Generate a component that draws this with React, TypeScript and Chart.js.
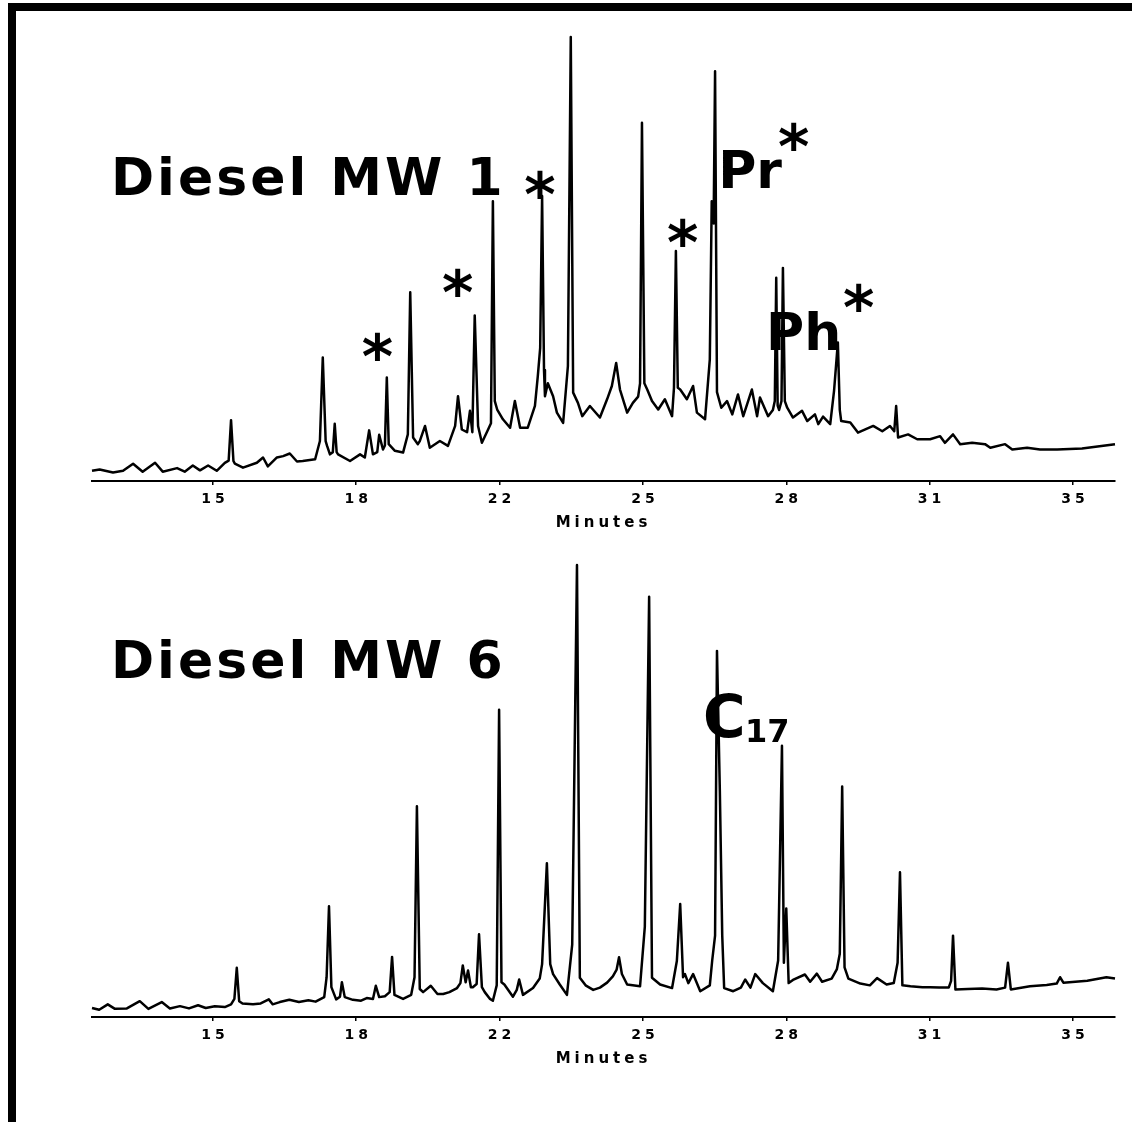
import { useEffect, useRef } from "react"
import { Chart, registerables } from "chart.js"
import type { Plugin } from "chart.js"

Chart.register(...registerables)

// eje x: posiciones de las marcas y sus etiquetas (tal como aparecen impresas)
const TICK_POS = [15, 18, 21, 24, 27, 30, 33]
const TICK_LABELS = ["15", "18", "22", "25", "28", "31", "35"]
const X_MIN = 12.47
const X_MAX = 33.88

// cromatograma Diesel MW 1: [minutos, respuesta %]
const MW1_TRACE: [number, number][] = [
  [12.47, 2.3], [12.63, 2.6], [12.91, 1.9], [13.12, 2.3], [13.33, 3.9], [13.53, 2.1], [13.79, 4.1],
  [13.95, 2.1], [14.25, 2.9], [14.41, 2.1], [14.58, 3.5], [14.73, 2.4], [14.9, 3.5], [15.08, 2.3],
  [15.25, 4.1], [15.33, 4.6], [15.38, 13.7], [15.43, 4.5], [15.46, 3.9], [15.63, 3.0], [15.92, 4.1],
  [16.05, 5.3], [16.15, 3.3], [16.34, 5.3], [16.47, 5.6], [16.61, 6.2], [16.76, 4.4], [16.88, 4.5],
  [17.14, 4.9], [17.24, 9.0], [17.3, 27.8], [17.36, 9.0], [17.39, 7.9], [17.45, 6.0], [17.51, 6.5],
  [17.55, 12.9], [17.59, 6.5], [17.62, 6.0], [17.87, 4.5], [18.08, 6.0], [18.18, 5.3], [18.27, 11.4],
  [18.35, 6.0], [18.44, 6.5], [18.48, 10.4], [18.56, 7.1], [18.6, 8.0], [18.64, 23.3], [18.68, 8.3],
  [18.81, 6.8], [18.98, 6.4], [19.08, 10.5], [19.13, 42.5], [19.19, 9.8], [19.29, 8.3], [19.33, 9.0],
  [19.44, 12.4], [19.54, 7.5], [19.75, 9.0], [19.92, 7.9], [20.07, 12.4], [20.13, 19.1], [20.21, 11.6],
  [20.32, 11.0], [20.38, 15.8], [20.43, 11.0], [20.48, 37.3], [20.55, 12.4], [20.63, 8.6], [20.76, 11.6],
  [20.82, 13.0], [20.86, 63.0], [20.9, 18.0], [20.95, 16.1], [21.07, 13.9], [21.22, 12.0], [21.32, 18.0],
  [21.43, 12.0], [21.59, 12.0], [21.74, 16.9], [21.8, 23.6], [21.85, 30.0], [21.89, 64.2], [21.93, 25.0],
  [21.95, 19.1], [22.01, 22.0], [22.12, 19.1], [22.2, 15.4], [22.33, 13.1], [22.43, 25.9], [22.49, 100],
  [22.54, 19.9], [22.64, 17.6], [22.73, 14.6], [22.89, 16.9], [23.1, 14.3], [23.25, 18.4], [23.35, 21.4],
  [23.44, 26.6], [23.52, 20.6], [23.67, 15.4], [23.79, 17.6], [23.9, 19.0], [23.94, 22.0], [23.98, 80.7],
  [24.03, 22.0], [24.09, 20.6], [24.19, 18.0], [24.32, 16.1], [24.46, 18.4], [24.61, 14.6], [24.65, 21.0],
  [24.69, 51.8], [24.73, 21.0], [24.78, 20.6], [24.92, 18.4], [25.05, 21.4], [25.13, 15.4], [25.3, 13.9],
  [25.4, 27.4], [25.44, 63.0], [25.48, 58.0], [25.51, 92.3], [25.55, 20.0], [25.64, 16.5], [25.76, 18.0],
  [25.87, 15.0], [25.99, 19.5], [26.1, 14.6], [26.28, 20.6], [26.39, 14.6], [26.45, 18.8], [26.62, 14.6],
  [26.72, 16.0], [26.76, 18.0], [26.79, 45.8], [26.82, 17.0], [26.85, 16.0], [26.9, 18.0], [26.93, 48.0],
  [26.97, 18.0], [27.02, 16.5], [27.14, 14.3], [27.33, 15.8], [27.44, 13.5], [27.6, 15.0], [27.67, 12.8],
  [27.77, 14.5], [27.92, 12.8], [28.0, 20.3], [28.08, 31.2], [28.12, 16.0], [28.15, 13.5], [28.34, 13.2],
  [28.5, 10.9], [28.82, 12.4], [29.01, 11.2], [29.17, 12.4], [29.26, 11.2], [29.3, 16.9], [29.34, 9.8],
  [29.55, 10.5], [29.74, 9.4], [30.01, 9.4], [30.22, 10.1], [30.32, 8.6], [30.49, 10.5], [30.64, 8.3],
  [30.89, 8.6], [31.16, 8.3], [31.27, 7.5], [31.58, 8.3], [31.73, 7.1], [32.04, 7.5], [32.31, 7.1],
  [32.67, 7.1], [33.19, 7.3], [33.88, 8.3],
]

// cromatograma Diesel MW 6
const MW6_TRACE: [number, number][] = [
  [12.47, 2.0], [12.62, 1.6], [12.8, 2.8], [12.95, 1.8], [13.2, 1.9], [13.47, 3.5], [13.65, 1.8],
  [13.93, 3.3], [14.1, 1.9], [14.31, 2.4], [14.5, 1.9], [14.69, 2.6], [14.85, 2.0], [15.04, 2.4],
  [15.25, 2.2], [15.38, 2.8], [15.45, 4.0], [15.5, 10.9], [15.55, 3.5], [15.62, 3.0], [15.84, 2.8],
  [16.0, 3.0], [16.17, 3.9], [16.25, 2.8], [16.4, 3.3], [16.6, 3.8], [16.8, 3.3], [17.0, 3.7],
  [17.15, 3.4], [17.33, 4.4], [17.38, 8.8], [17.43, 24.5], [17.48, 6.6], [17.58, 3.9], [17.66, 4.5],
  [17.7, 7.7], [17.76, 4.4], [17.93, 3.8], [18.1, 3.6], [18.22, 4.2], [18.35, 4.0], [18.41, 6.9],
  [18.48, 4.4], [18.6, 4.6], [18.7, 5.5], [18.75, 13.3], [18.8, 4.9], [18.98, 4.0], [19.15, 4.9],
  [19.22, 8.8], [19.27, 46.6], [19.33, 6.2], [19.4, 5.5], [19.56, 6.9], [19.7, 5.1], [19.82, 5.1],
  [19.95, 5.5], [20.11, 6.4], [20.18, 7.5], [20.23, 11.4], [20.29, 7.7], [20.34, 10.3], [20.4, 6.6],
  [20.44, 6.6], [20.52, 7.3], [20.57, 18.3], [20.63, 6.6], [20.69, 5.5], [20.8, 4.0], [20.86, 3.6],
  [20.94, 7.0], [20.99, 68.0], [21.04, 7.7], [21.1, 7.2], [21.28, 4.5], [21.36, 6.0], [21.41, 8.3],
  [21.49, 4.9], [21.7, 6.4], [21.84, 8.5], [21.89, 11.7], [21.99, 34.0], [22.06, 11.7], [22.12, 9.5],
  [22.26, 7.2], [22.41, 4.9], [22.52, 16.0], [22.62, 100], [22.68, 8.7], [22.8, 7.0], [22.96, 6.0],
  [23.1, 6.5], [23.25, 7.6], [23.37, 9.0], [23.45, 10.5], [23.5, 13.2], [23.56, 9.5], [23.67, 7.2],
  [23.94, 6.8], [24.04, 20.0], [24.13, 93.0], [24.19, 8.7], [24.36, 7.2], [24.61, 6.4], [24.71, 12.4],
  [24.78, 25.0], [24.84, 8.8], [24.88, 9.5], [24.95, 7.5], [25.05, 9.5], [25.2, 5.7], [25.4, 7.0],
  [25.45, 12.5], [25.51, 18.0], [25.55, 81.0], [25.61, 50.0], [25.66, 18.0], [25.7, 6.4], [25.89, 5.7],
  [26.05, 6.5], [26.14, 8.3], [26.25, 6.5], [26.35, 9.5], [26.51, 7.5], [26.72, 5.7], [26.83, 12.5],
  [26.91, 60.0], [26.95, 12.0], [27.0, 24.0], [27.05, 7.5], [27.14, 8.2], [27.39, 9.4], [27.5, 7.8],
  [27.64, 9.6], [27.75, 7.8], [27.95, 8.5], [28.06, 10.6], [28.12, 14.0], [28.17, 51.0], [28.22, 11.0],
  [28.3, 8.5], [28.55, 7.4], [28.75, 7.0], [28.9, 8.6], [29.1, 7.2], [29.25, 7.5], [29.33, 12.0],
  [29.38, 32.0], [29.43, 7.0], [29.6, 6.8], [29.85, 6.6], [30.01, 6.6], [30.2, 6.5], [30.4, 6.5],
  [30.45, 8.0], [30.49, 18.0], [30.54, 6.1], [30.8, 6.2], [31.1, 6.3], [31.4, 6.1], [31.58, 6.5],
  [31.64, 12.0], [31.7, 6.1], [32.1, 6.8], [32.45, 7.1], [32.66, 7.4], [32.73, 8.8], [32.8, 7.6],
  [33.3, 8.0], [33.7, 8.8], [33.88, 8.5],
]

// rótulos sobre el gráfico (x en minutos, y en %); center = centrado en el glifo
type Note = { text: string; x: number; y: number; size: number; center?: boolean; spacing?: number }

const MW1_NOTES: Note[] = [
  { text: "Diesel MW 1", x: 12.95, y: 64.4, size: 52, spacing: 3 },
  { text: "*", x: 18.45, y: 30.2, size: 60, center: true },
  { text: "*", x: 20.13, y: 44.6, size: 60, center: true },
  { text: "*", x: 21.85, y: 66.7, size: 60, center: true },
  { text: "*", x: 24.84, y: 55.9, size: 60, center: true },
  { text: "Pr", x: 25.66, y: 66.0, size: 52 },
  { text: "*", x: 27.16, y: 77.5, size: 60, center: true },
  { text: "Ph", x: 26.66, y: 29.5, size: 52 },
  { text: "*", x: 28.52, y: 41.4, size: 60, center: true },
]

const MW6_NOTES: Note[] = [
  { text: "Diesel MW 6", x: 12.95, y: 75.0, size: 52, spacing: 3 },
  { text: "C", x: 25.3, y: 61.9, size: 58 },
  { text: "17", x: 26.2, y: 60.8, size: 32 },
]

const LABEL_FONT = '"Comic Sans MS", "DejaVu Sans", sans-serif'
const AXIS_FONT = '"DejaVu Sans", sans-serif'

function notesPlugin(notes: Note[]): Plugin<"line"> {
  return {
    id: "notes",
    beforeDraw(chart) {
      // las etiquetas del eje original están muy estiradas
      ;(chart.ctx as any).letterSpacing = "4px"
    },
    afterDatasetsDraw(chart) {
      const { ctx, scales } = chart
      ctx.save()
      ctx.fillStyle = "#000"
      ctx.textAlign = "left"
      ctx.textBaseline = "alphabetic"
      for (const n of notes) {
        ctx.font = `bold ${n.size}px ${LABEL_FONT}`
        ;(ctx as any).letterSpacing = `${n.spacing ?? 0}px`
        const m = ctx.measureText(n.text)
        const px = scales.x.getPixelForValue(n.x)
        const py = scales.y.getPixelForValue(n.y)
        if (n.center) {
          const dx = px - (m.actualBoundingBoxRight - m.actualBoundingBoxLeft) / 2
          const dy = py + (m.actualBoundingBoxAscent - m.actualBoundingBoxDescent) / 2
          ctx.fillText(n.text, dx, dy)
        } else {
          ctx.fillText(n.text, px + m.actualBoundingBoxLeft, py)
        }
      }
      ctx.restore()
    },
    afterDraw(chart) {
      ;(chart.ctx as any).letterSpacing = "0px"
    },
  }
}

interface ChromatogramProps {
  trace: [number, number][]
  notes: Note[]
  top: number
  height: number
  padTop: number
}

function Chromatogram({ trace, notes, top, height, padTop }: ChromatogramProps) {
  const chartRef = useRef<HTMLCanvasElement>(null)

  useEffect(() => {
    if (!chartRef.current) return
    const chart = new Chart(chartRef.current, {
      type: "line",
      data: {
        datasets: [
          {
            data: trace.map(([x, y]) => ({ x, y })),
            borderColor: "#000",
            borderWidth: 2.5,
            borderJoinStyle: "round",
            pointRadius: 0,
            tension: 0,
            fill: false,
            clip: false,
          },
        ],
      },
      options: {
        animation: false,
        responsive: true,
        maintainAspectRatio: false,
        layout: { padding: { left: 92, right: 17, top: padTop, bottom: 0 } },
        plugins: { legend: { display: false }, tooltip: { enabled: false } },
        scales: {
          x: {
            type: "linear",
            min: X_MIN,
            max: X_MAX,
            afterBuildTicks: (scale) => {
              scale.ticks = TICK_POS.map((value) => ({ value }))
            },
            afterFit: (scale) => {
              scale.height = 64
            },
            grid: { drawOnChartArea: false, drawTicks: true, tickLength: 4, color: "#000", lineWidth: 1.5 },
            border: { display: true, color: "#000", width: 2 },
            ticks: {
              autoSkip: false,
              maxRotation: 0,
              padding: 6,
              labelOffset: 2,
              color: "#000",
              font: { family: AXIS_FONT, size: 14, weight: "bold" },
              callback: (_v, i) => TICK_LABELS[i] ?? "",
            },
            title: {
              display: true,
              text: "Minutes",
              color: "#000",
              font: { family: AXIS_FONT, size: 15, weight: "bold" },
              padding: { top: 0, bottom: 13 },
            },
          },
          y: { display: false, min: 0, max: 100 },
        },
      },
      plugins: [notesPlugin(notes)],
    })

    return () => {
      chart.destroy()
    }
  }, [trace, notes, padTop])

  return (
    <div style={{ position: "absolute", left: 0, top, width: 1132, height }}>
      <canvas ref={chartRef} />
    </div>
  )
}

export default function App() {
  return (
    <div style={{ position: "absolute", left: 0, top: 0, width: 1132, height: 1122, background: "#fff", overflow: "hidden" }}>
      <Chromatogram trace={MW1_TRACE} notes={MW1_NOTES} top={0} height={545} padTop={37} />
      <Chromatogram trace={MW6_TRACE} notes={MW6_NOTES} top={545} height={536} padTop={20} />
      <div style={{ position: "absolute", left: 8, top: 3, width: 1124, height: 8, background: "#000" }} />
      <div style={{ position: "absolute", left: 8, top: 3, width: 8, height: 1119, background: "#000" }} />
    </div>
  )
}
